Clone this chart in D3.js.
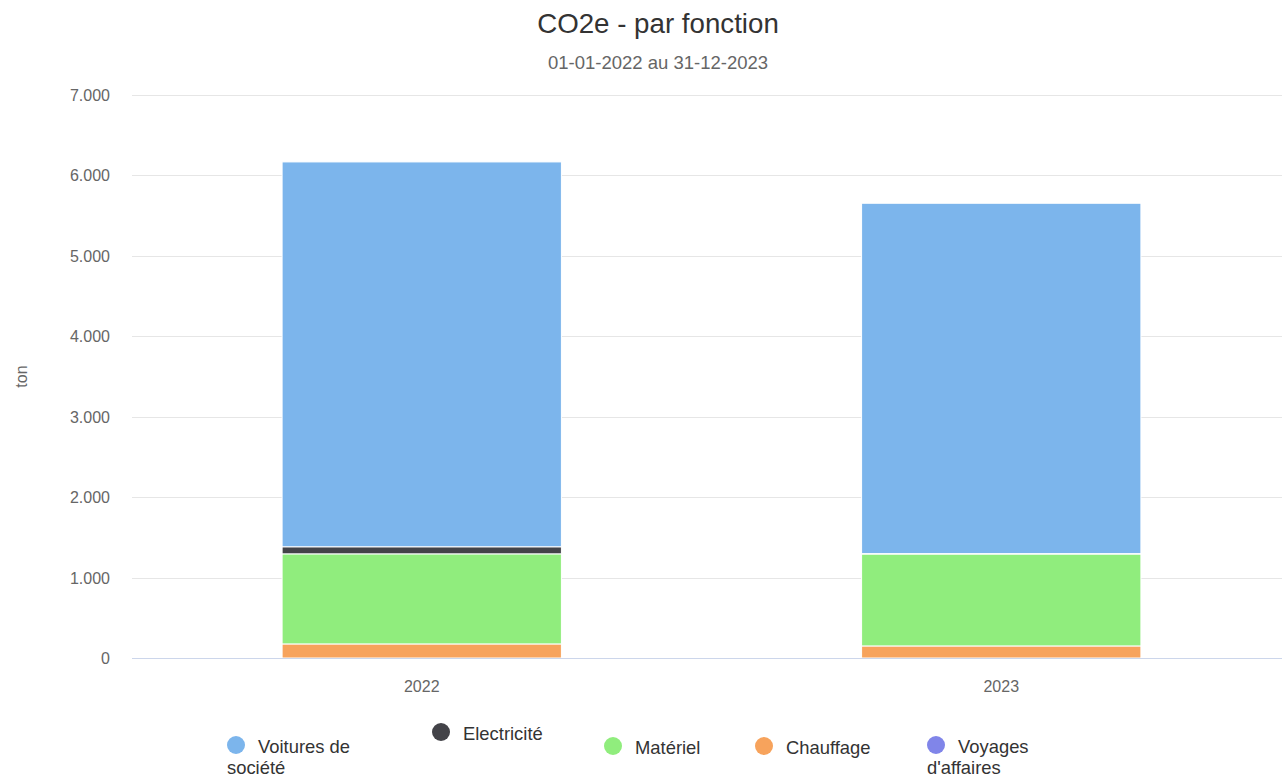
<!DOCTYPE html>
<html>
<head>
<meta charset="utf-8">
<script src="https://cdn.jsdelivr.net/npm/d3@7"></script>
<style>
body { margin: 0; background: #fff; overflow: hidden; }
text { font-family: "Liberation Sans", Arial, sans-serif; }
</style>
</head>
<body>
<script>
// data
var years = ["2022", "2023"];
var series = ["Voyages d'affaires", "Chauffage", "Matériel", "Electricité", "Voitures de société"];
var voyages = [0, 0];
var chauffage = [175, 150];
var materiel = [1120, 1143];
var electricite = [88, 5];
var voitures = [4785, 4356];
var yTicks = [0, 1000, 2000, 3000, 4000, 5000, 6000, 7000];
var colors = {
  "Voitures de société": "#7cb5ec",
  "Electricité": "#434348",
  "Matériel": "#90ed7d",
  "Chauffage": "#f7a35c",
  "Voyages d'affaires": "#8085e9"
};

var width = 1282, height = 776;
// the plot area runs a little past the right edge of the picture
var plotLeft = 132, plotRight = 1291, plotTop = 95, plotBottom = 658;

var svg = d3.select("body").append("svg")
  .attr("width", width)
  .attr("height", height);

var rows = years.map(function (y, i) {
  return {
    year: y,
    "Voyages d'affaires": voyages[i],
    "Chauffage": chauffage[i],
    "Matériel": materiel[i],
    "Electricité": electricite[i],
    "Voitures de société": voitures[i]
  };
});

var x = d3.scaleBand().domain(years).range([plotLeft, plotRight])
  .paddingInner(0.518).paddingOuter(0.259);
var y = d3.scaleLinear().domain([0, 7000]).range([plotBottom, plotTop]);

// title
svg.append("text").text("CO2e - par fonction")
  .attr("x", 658).attr("y", 33).attr("text-anchor", "middle")
  .style("font-size", "27.7px").style("fill", "#333333");
svg.append("text").text("01-01-2022 au 31-12-2023")
  .attr("x", 658).attr("y", 69).attr("text-anchor", "middle")
  .style("font-size", "18.5px").style("fill", "#666666");

// grid
svg.append("g").selectAll("line").data(yTicks.filter(function (d) { return d > 0; }))
  .enter().append("line")
  .attr("x1", plotLeft).attr("x2", plotRight)
  .attr("y1", function (d) { return Math.round(y(d)) + 0.5; })
  .attr("y2", function (d) { return Math.round(y(d)) + 0.5; })
  .attr("stroke", "#e6e6e6").attr("stroke-width", 1);

// y labels
svg.append("g").selectAll("text").data(yTicks).enter().append("text")
  .text(function (d) { return d3.format(",")(d).replace(/,/g, "."); })
  .attr("x", 110).attr("y", function (d) { return y(d) + 6; })
  .attr("text-anchor", "end")
  .style("font-size", "16px").style("fill", "#666666");

svg.append("text").text("ton")
  .attr("transform", "translate(27," + ((plotTop + plotBottom) / 2) + ") rotate(-90)")
  .attr("text-anchor", "middle")
  .style("font-size", "16px").style("fill", "#666666");

// bars
var stack = d3.stack().keys(series);
var layers = stack(rows);

svg.append("g").selectAll("g").data(layers).enter().append("g")
  .attr("fill", function (d) { return colors[d.key]; })
  .selectAll("rect").data(function (d) { return d; }).enter().append("rect")
  .attr("x", function (d) { return x(d.data.year); })
  .attr("width", x.bandwidth())
  .attr("y", function (d) { return y(d[1]); })
  .attr("height", function (d) { return Math.max(0, y(d[0]) - y(d[1])); })
  .attr("stroke", "#ffffff").attr("stroke-width", 1);

// x axis line
svg.append("line")
  .attr("x1", plotLeft).attr("x2", plotRight)
  .attr("y1", plotBottom + 0.5).attr("y2", plotBottom + 0.5)
  .attr("stroke", "#ccd6eb").attr("stroke-width", 1);

svg.append("g").selectAll("text").data(years).enter().append("text")
  .text(function (d) { return d; })
  .attr("x", function (d) { return x(d) + x.bandwidth() / 2; })
  .attr("y", 692).attr("text-anchor", "middle")
  .style("font-size", "16px").style("fill", "#666666");

// legend
var legendItems = [
  { key: "Voitures de société", lines: ["Voitures de", "société"], x: 227, y: 745 },
  { key: "Electricité", lines: ["Electricité"], x: 432, y: 732 },
  { key: "Matériel", lines: ["Matériel"], x: 604, y: 746 },
  { key: "Chauffage", lines: ["Chauffage"], x: 755, y: 746 },
  { key: "Voyages d'affaires", lines: ["Voyages", "d'affaires"], x: 927, y: 745 }
];

var lg = svg.append("g").selectAll("g").data(legendItems).enter().append("g");
lg.append("circle")
  .attr("cx", function (d) { return d.x + 9; })
  .attr("cy", function (d) { return d.y; })
  .attr("r", 9)
  .attr("fill", function (d) { return colors[d.key]; });
lg.each(function (d) {
  var g = d3.select(this);
  d.lines.forEach(function (line, i) {
    g.append("text").text(line)
      .attr("x", i === 0 ? d.x + 31 : d.x)
      .attr("y", d.y + 8 + i * 21)
      .style("font-size", "18.4px").style("fill", "#333333");
  });
});
</script>
</body>
</html>
